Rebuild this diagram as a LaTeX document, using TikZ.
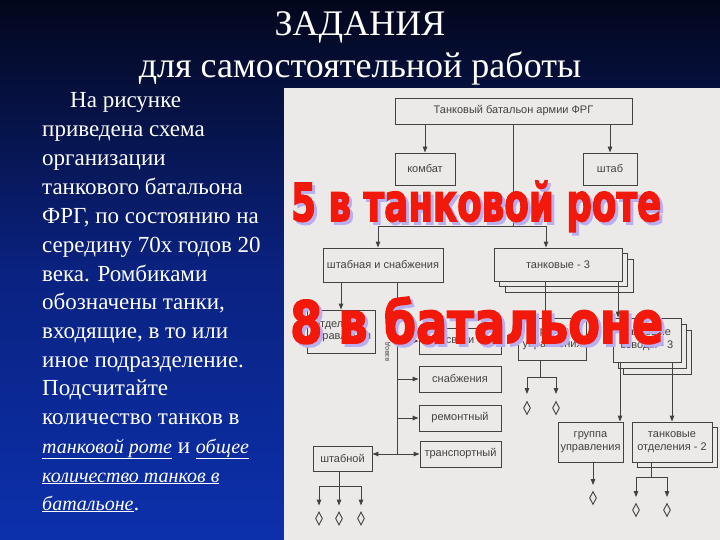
\documentclass[tikz,border=0pt]{standalone}
\usepackage{fontspec}
\usepackage{graphicx}
\setmainfont{Liberation Serif}
\newfontfamily\diagfont{Liberation Sans}
\newfontfamily\redfont{DejaVu Sans}[BoldFeatures={FakeBold=3}]
\usetikzlibrary{arrows.meta,shapes.geometric}
\definecolor{bgtop}{RGB}{3,7,28}
\definecolor{bgmid}{RGB}{10,34,128}
\definecolor{bgbot}{RGB}{12,48,172}
\definecolor{paper}{RGB}{236,234,232}
\definecolor{ink}{RGB}{66,66,66}
\definecolor{redtxt}{RGB}{242,24,10}
\definecolor{glow}{RGB}{185,175,240}
\newcommand{\itu}[1]{\underline{\fontsize{20}{24}\selectfont\itshape #1}}
\begin{document}
\begin{tikzpicture}[x=1pt,y=-1pt,
  box/.style={draw=ink, line width=0.9pt, fill=paper, inner sep=1pt,
    font=\diagfont\fontsize{11}{12.5}\selectfont, text=ink, align=center},
  arr/.style={draw=ink, line width=0.9pt, -{Triangle[length=6pt,width=4.5pt]}},
  darr/.style={draw=ink, line width=0.9pt, {Triangle[length=6pt,width=4.5pt]}-{Triangle[length=6pt,width=4.5pt]}},
  ln/.style={draw=ink, line width=0.9pt},
  tank/.style={draw=ink, line width=0.9pt, diamond, minimum width=7pt, minimum height=13pt, inner sep=0pt},
  body/.style={anchor=base west, text=white, inner sep=0pt, font=\fontsize{23}{27}\selectfont},
  ttl/.style={anchor=base, text=white, inner sep=0pt, font=\fontsize{36}{40}\selectfont},
  redl/.style={anchor=base west, inner sep=0pt, text=redtxt, font=\redfont\bfseries},
  glowl/.style={anchor=base west, inner sep=0pt, text=glow, font=\redfont\bfseries}
]
\useasboundingbox (0,0) rectangle (720,540);
\shade[top color=bgtop, bottom color=bgbot, middle color=bgmid] (0,0) rectangle (720,540);
\fill[paper] (284,88) rectangle (720,540);

% title
\node[ttl] (t1) at (360,36) {ЗАДАНИЯ};
\node[ttl] (t2) at (360,78) {для самостоятельной работы};

% left text
\node[body] (l1) at (70,108) {На рисунке};
\node[body] (l2) at (42,137) {приведена схема};
\node[body] (l3) at (42,166) {организации};
\node[body] (l4) at (42,195) {танкового батальона};
\node[body] (l5) at (42,223) {ФРГ, по состоянию на};
\node[body] (l6) at (42,252) {середину 70х годов 20};
\node[body] (l7) at (42,281) {века. Ромбиками};
\node[body] (l8) at (42,309) {обозначены танки,};
\node[body] (l9) at (42,338) {входящие, в то или};
\node[body] (l10) at (42,367) {иное подразделение.};
\node[body] (l11) at (42,395) {Подсчитайте};
\node[body] (l12) at (42,424) {количество танков в};
\node[body] (l13) at (42,453) {\itu{танковой роте} и \itu{общее}};
\node[body] (l14) at (42,482) {\itu{количество танков в}};
\node[body] (l15) at (42,510) {\itu{батальоне}.};

% diagram boxes
\node[box, minimum width=237pt, minimum height=26pt] (top) at (513.5,111) {Танковый батальон армии ФРГ};
\node[box, minimum width=60pt, minimum height=32pt] (komb) at (425,169) {комбат};
\node[box, minimum width=54pt, minimum height=32pt] (shtab) at (610,169) {штаб};
\node[box, minimum width=120pt, minimum height=34pt] (shsn) at (383,265) {штабная и снабжения};
\node[box, minimum width=128pt, minimum height=33pt] (tank3c) at (569,275.5) {};
\node[box, minimum width=128pt, minimum height=33pt] (tank3b) at (563.5,270) {};
\node[box, minimum width=128pt, minimum height=33pt] (tank3) at (558,264.5) {танковые - 3};
\node[box, minimum width=68pt, minimum height=43pt] (otdu) at (341,331.5) {отделение\\управления};
\node[box, minimum width=82pt, minimum height=26pt] (svyazi) at (460,341) {связи};
\node[box, minimum width=82pt, minimum height=26pt] (snab) at (460,379) {снабжения};
\node[box, minimum width=82pt, minimum height=26pt] (remont) at (460,418) {ремонтный};
\node[box, minimum width=81pt, minimum height=26pt] (transp) at (460.5,454) {транспортный};
\node[box, minimum width=59pt, minimum height=25pt] (shtabnoy) at (342.5,458.5) {штабной};
\node[box, minimum width=68pt, minimum height=42pt] (gru1) at (552.5,339) {группа\\управления};
\node[box, minimum width=68pt, minimum height=44pt] (vzvc) at (657,352) {};
\node[box, minimum width=68pt, minimum height=44pt] (vzvb) at (652,346) {};
\node[box, minimum width=68pt, minimum height=44pt] (vzv) at (647,340) {танковые\\взводы - 3};
\node[box, minimum width=65pt, minimum height=40pt] (gru2) at (590.5,442) {группа\\управления};
\node[box, minimum width=80pt, minimum height=40pt] (otd2b) at (677,447) {};
\node[box, minimum width=80pt, minimum height=40pt] (otd2) at (672,442) {танковые\\отделения - 2};
\node[rotate=90, inner sep=0pt, text=ink, font=\diagfont\fontsize{7}{7}\selectfont] (vzvod) at (388,352) {взвод};

% diamonds (tanks)
\node[tank] (d1) at (319,518.5) {};
\node[tank] (d2) at (339,518.5) {};
\node[tank] (d3) at (361,518.5) {};
\node[tank] (d4) at (527,408) {};
\node[tank] (d5) at (556,408) {};
\node[tank] (d6) at (593,498) {};
\node[tank] (d7) at (636,510) {};
\node[tank] (d8) at (667,510) {};

% connectors
\draw[arr] (komb.north |- top.south) -- (komb.north);
\draw[arr] (shtab.north |- top.south) -- (shtab.north);
\coordinate (j1) at (513.5,226);
\draw[ln] (top.south) -- (j1);
\draw[arr] (j1) -| ([xshift=-5pt]shsn.north);
\draw[arr] (j1) -| ([xshift=-12pt]tank3.north);
\draw[arr] (otdu.north |- shsn.south) -- (otdu.north);
\coordinate (vt) at ([xshift=14pt]shsn.south);
\draw[ln] (vt) -- (vt |- transp.west);
\draw[arr] (vt |- svyazi.west) -- (svyazi.west);
\draw[arr] (vt |- snab.west) -- (snab.west);
\draw[arr] (vt |- remont.west) -- (remont.west);
\draw[darr] (shtabnoy.east |- transp.west) -- (transp.west);
\draw[arr] ([xshift=-13pt]tank3.south) -- ([xshift=-7.5pt]gru1.north);
\draw[arr] ([xshift=60pt]tank3.south) -- ([xshift=-29pt]vzv.north);
\coordinate (g1j) at (540,377);
\draw[ln] (g1j |- gru1.south) -- (g1j);
\draw[arr, shorten >=7pt] (g1j) -| (d4);
\draw[arr, shorten >=7pt] (g1j) -| (d5);
\draw[arr] ([xshift=-27pt]vzv.south) -- ([xshift=-27pt]vzv.south |- gru2.north);
\draw[arr] ([xshift=25pt]vzv.south) -- ([xshift=25pt]vzv.south |- otd2.north);
\draw[arr, shorten >=6pt] (d6 |- gru2.south) -- (d6);
\coordinate (oj) at (651,477);
\draw[ln] (oj |- otd2.south) -- (oj);
\draw[arr, shorten >=6pt] (oj) -| (d7);
\draw[arr, shorten >=6pt] (oj) -| (d8);
\coordinate (sj) at (339,486);
\draw[ln] (sj |- shtabnoy.south) -- (sj);
\draw[arr, shorten >=6pt] (sj) -| (d1);
\draw[arr, shorten >=6pt] (sj) -- (d2);
\draw[arr, shorten >=6pt] (sj) -| (d3);

% red overlay
\node[glowl] (r1g) at (294,224) {\resizebox{370pt}{40pt}{5 в танковой роте}};
\node[redl] (r1) at (291,221) {\resizebox{370pt}{40pt}{5 в танковой роте}};
\node[glowl] (r2g) at (293,346) {\resizebox{373pt}{46pt}{8 в батальоне}};
\node[redl] (r2) at (290,343) {\resizebox{373pt}{46pt}{8 в батальоне}};
\end{tikzpicture}
\end{document}
